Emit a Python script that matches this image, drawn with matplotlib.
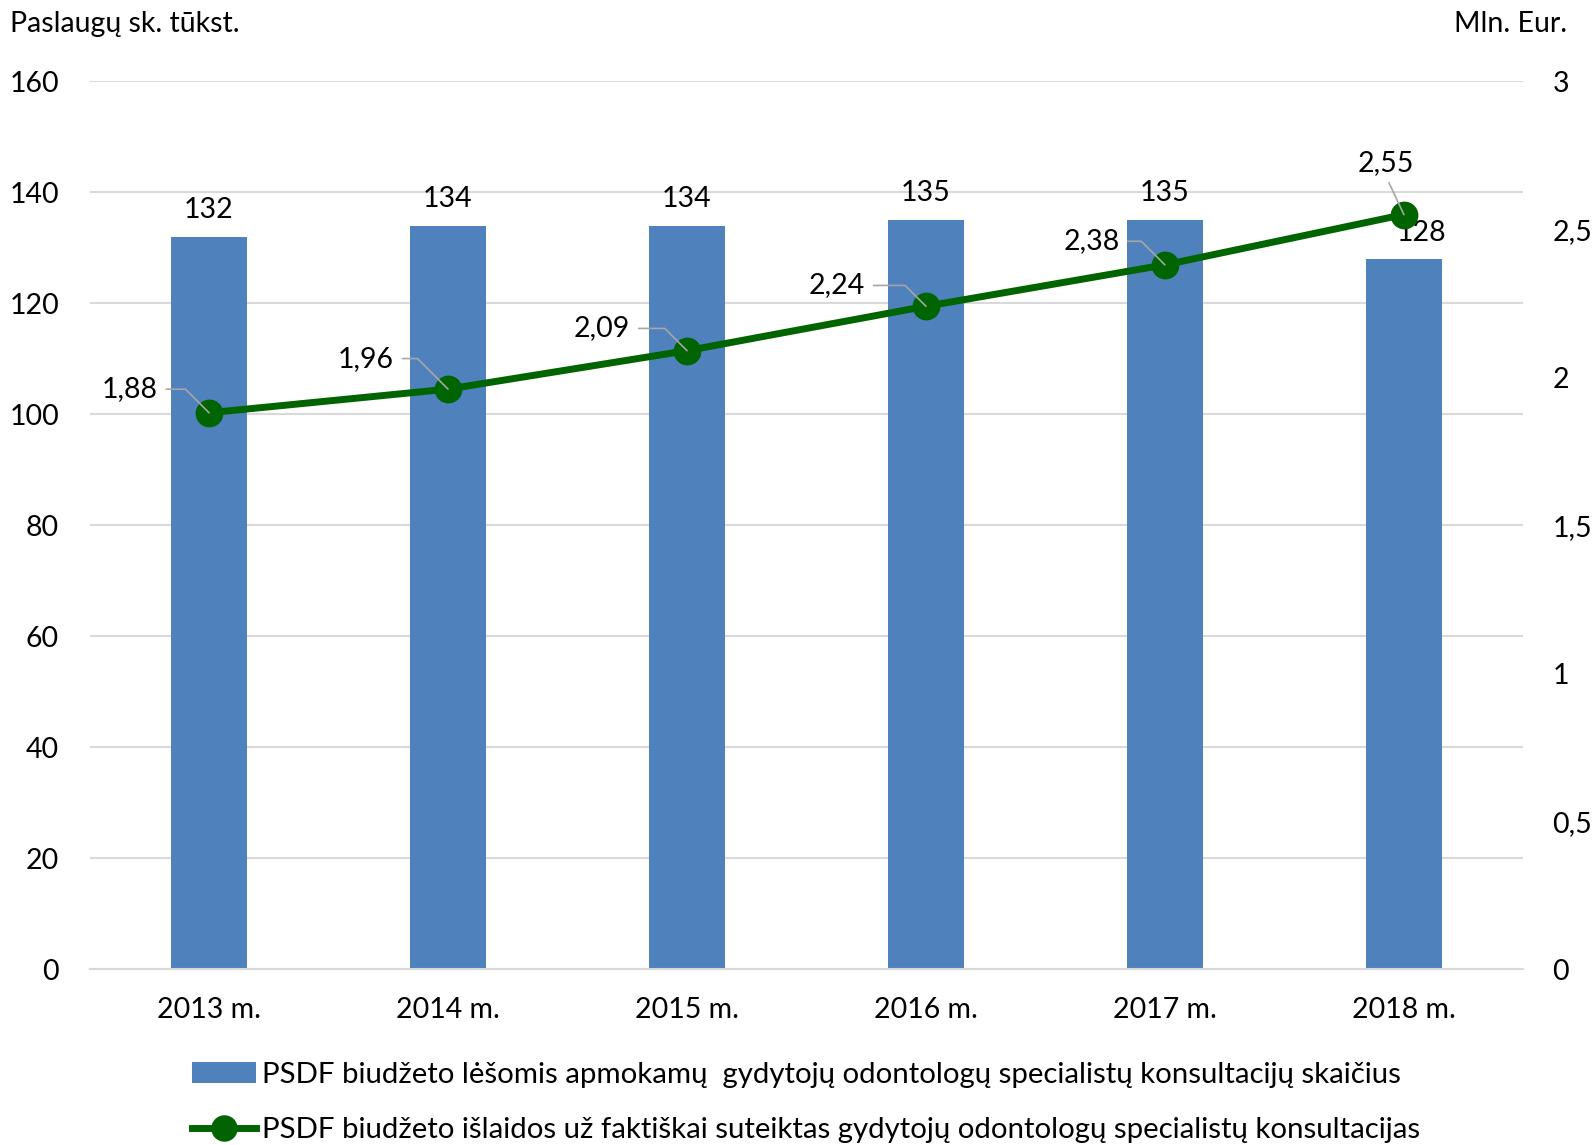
import numpy as np
import matplotlib
matplotlib.use('Agg')
import matplotlib.pyplot as plt

plt.rcParams['font.family'] = ['Lato', 'DejaVu Sans']

years = ['2013 m.', '2014 m.', '2015 m.', '2016 m.', '2017 m.', '2018 m.']
consults = [132, 134, 134, 135, 135, 128]
spend = [1.88, 1.96, 2.09, 2.24, 2.38, 2.55]
spend_labels = ['1,88', '1,96', '2,09', '2,24', '2,38', '2,55']
left_ticks = [0, 20, 40, 60, 80, 100, 120, 140, 160]
right_ticks = [0, 0.5, 1, 1.5, 2, 2.5, 3]
right_tick_labels = ['0', '0,5', '1', '1,5', '2', '2,5', '3']

bar_name = 'PSDF biudžeto lėšomis apmokamų  gydytojų odontologų specialistų konsultacijų skaičius'
line_name = 'PSDF biudžeto išlaidos už faktiškai suteiktas gydytojų odontologų specialistų konsultacijas'

bar_col = '#4F81BD'
line_col = '#006400'
grid_col = '#D9D9D9'
fs = 20.5

fig = plt.figure(figsize=(15.96, 11.45), dpi=100)
ax = fig.add_axes([0.0561, 0.1537, 0.8984, 0.7752])
x = np.arange(len(years))

bars = ax.bar(x, consults, width=0.315, color=bar_col, zorder=2, label=bar_name)
ax.set_xlim(-0.5, 5.5)
ax.set_ylim(0, 160)
ax.set_yticks(left_ticks)
ax.set_xticks(x)
ax.set_xticklabels(years)
ax.grid(axis='y', color=grid_col, linewidth=1.5, zorder=0)
ax.set_axisbelow(True)
for s in ['top', 'right', 'left']:
    ax.spines[s].set_visible(False)
ax.spines['bottom'].set_color(grid_col)
ax.spines['bottom'].set_linewidth(1.5)
ax.tick_params(axis='both', length=0, labelsize=fs, colors='black')
ax.tick_params(axis='x', pad=20)
ax.tick_params(axis='y', pad=22)

# bar labels
bar_off = [(0, 10), (0, 10), (0, 10), (0, 10), (0, 10), (13, 9)]
for i, v in enumerate(consults):
    ax.annotate(str(v), (x[i], v), xytext=bar_off[i], textcoords='offset points',
                ha='center', va='bottom', fontsize=fs, zorder=5)

ax2 = ax.twinx()
ax2.set_ylim(0, 3)
ax2.set_yticks(right_ticks)
ax2.set_yticklabels(right_tick_labels)
for s in ax2.spines.values():
    s.set_visible(False)
ax2.tick_params(axis='y', length=0, labelsize=fs, pad=21)
ax2.plot(x, spend, color=line_col, linewidth=5, marker='o', markersize=19,
         zorder=3, label=line_name)

# line labels with leader lines
lab_off = [(-57, 17), (-59, 22), (-61, 16), (-64, 15), (-53, 17), (-13, 37)]
for i, v in enumerate(spend):
    dx, dy = lab_off[i]
    if i < 5:
        ax2.annotate(spend_labels[i], (x[i], v), xytext=(dx, dy), textcoords='offset points',
                     ha='center', va='center', fontsize=fs, zorder=6,
                     arrowprops=dict(arrowstyle='-', color='#A6A6A6', lw=1.2,
                                     shrinkA=4, shrinkB=0, relpos=(1, 0.5),
                                     connectionstyle='angle,angleA=0,angleB=135,rad=0'))
    else:
        ax2.annotate(spend_labels[i], (x[i], v), xytext=(dx, dy), textcoords='offset points',
                     ha='center', va='center', fontsize=fs, zorder=6,
                     arrowprops=dict(arrowstyle='-', color='#A6A6A6', lw=1.2,
                                     shrinkA=3, shrinkB=0, relpos=(0.5, 0)))

fig.text(0.006, 0.979, 'Paslaugų sk. tūkst.', fontsize=fs, ha='left', va='center')
fig.text(0.982, 0.979, 'Mln. Eur.', fontsize=fs, ha='right', va='center')

h1, l1 = ax.get_legend_handles_labels()
h2, l2 = ax2.get_legend_handles_labels()
fig.legend(h1 + h2, l1 + l2, loc='center', bbox_to_anchor=(0.505, 0.037), ncol=1,
           frameon=False, fontsize=21.2, handlelength=2.2, handletextpad=0.2,
           labelspacing=1.0, markerscale=0.95)

fig.savefig('out.png', dpi=100)
